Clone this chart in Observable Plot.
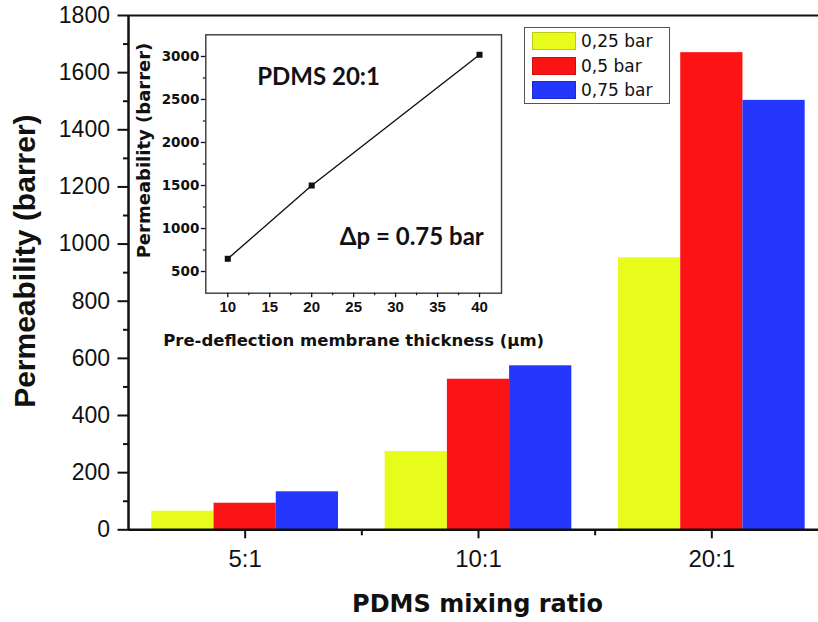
<!DOCTYPE html>
<html>
<head>
<meta charset="utf-8">
<script src="https://cdn.jsdelivr.net/npm/d3@7"></script>
<script src="https://cdn.jsdelivr.net/npm/@observablehq/plot@0.6"></script>
<style>
  html, body { margin: 0; padding: 0; background: #fff; }
  #wrap { position: relative; width: 818px; height: 622px; overflow: hidden; background: #fff; }
  #wrap svg { position: absolute; left: 0; top: 0; max-width: none !important; }
  #legend { position: absolute; left: 524px; top: 27px; width: 146px; height: 77px; box-sizing: border-box;
            border: 1.5px solid #555; background: #fff; font-family: "DejaVu Sans", sans-serif; font-size: 17px; }
  #legend .sw { position: absolute; left: 7px; width: 44px; height: 18px; box-sizing: border-box; }
  #legend .lb { position: absolute; left: 56px; line-height: 18px; white-space: nowrap; color: #111; }
</style>
</head>
<body>
<div id="wrap"></div>
<script>
// ---- Main chart data ----
const categories = ["5:1", "10:1", "20:1"];
const pressures = ["0,25 bar", "0,5 bar", "0,75 bar"];
const perm025 = [65, 274, 952];
const perm05 = [93, 527, 1670];
const perm075 = [133, 574, 1503];
const barColors = ["#e8fc1c", "#fc1414", "#2536fc"];
const yTicks = [0, 200, 400, 600, 800, 1000, 1200, 1400, 1600, 1800];
const yMinorTicks = [100, 300, 500, 700, 900, 1100, 1300, 1500, 1700];
const xTitle = "PDMS mixing ratio";
const yTitle = "Permeability (barrer)";

// ---- Inset data ----
const insetThickness = [10, 20, 40];
const insetPerm = [648, 1500, 3020];
const insetXTicks = [10, 15, 20, 25, 30, 35, 40];
const insetXMinor = [12.5, 17.5, 22.5, 27.5, 32.5, 37.5];
const insetYTicks = [500, 1000, 1500, 2000, 2500, 3000];
const insetYMinor = [750, 1250, 1750, 2250, 2750];
const insetXTitle = "Pre-deflection membrane thickness (µm)";
const insetYTitle = "Permeability (barrer)";
const insetNote1 = "PDMS 20:1";
const insetNote2 = "Δp = 0.75 bar";

const seriesValues = [perm025, perm05, perm075];
const groupWidth = 0.8;
const rows = categories.flatMap((cat, i) => pressures.map((p, j) => ({
  cat, pressure: p, value: seriesValues[j][i],
  x1: i - groupWidth / 2 + j * groupWidth / 3,
  x2: i - groupWidth / 2 + (j + 1) * groupWidth / 3
})));

const ARIAL = "'Liberation Sans', Arial, sans-serif";
const DEJAVU = "'DejaVu Sans', sans-serif";

const main = Plot.plot({
  width: 828, height: 622,
  marginLeft: 128, marginRight: 0, marginTop: 15, marginBottom: 92.7,
  style: { background: "transparent", fontFamily: ARIAL, color: "#111", maxWidth: "none" },
  x: { domain: [-0.5, categories.length - 0.5] },
  y: { domain: [0, 1800] },
  color: { domain: pressures, range: barColors },
  marks: [
    Plot.rectY(rows, { x1: "x1", x2: "x2", y: "value", fill: "pressure" }),
    Plot.ruleY([1800], { stroke: "#111", strokeWidth: 2 }),
    Plot.ruleY([0], { stroke: "#111", strokeWidth: 2.5 }),
    Plot.ruleX([-0.5], { y1: 0, y2: 1800, stroke: "#111", strokeWidth: 2.5 }),
    Plot.axisY({ ticks: yTicks, tickSize: 10.5, tickPadding: 8, tickFormat: d => String(d),
      fontSize: 23, fontFamily: ARIAL, stroke: "#111", strokeWidth: 2, label: null }),
    Plot.axisY({ ticks: yMinorTicks, tickSize: 5, tickFormat: () => "", stroke: "#111", strokeWidth: 2, label: null }),
    Plot.axisX({ ticks: categories.map((c, i) => i), tickFormat: i => categories[i], tickSize: 9, tickPadding: 11.4,
      fontSize: 24, fontFamily: ARIAL, stroke: "#111", strokeWidth: 2, label: null }),
    Plot.axisX({ ticks: categories.slice(1).map((c, i) => i + 0.5), tickSize: 6, tickFormat: () => "",
      stroke: "#111", strokeWidth: 2, label: null }),
    Plot.text([xTitle], { text: d => d, frameAnchor: "bottom", textAnchor: "middle", dx: -1, dy: 75, lineAnchor: "middle",
      fontSize: 24, fontWeight: "bold", fontFamily: DEJAVU, fill: "#111" }),
    Plot.text([yTitle], { text: d => d, frameAnchor: "left", textAnchor: "middle", rotate: -90, dx: -103, dy: -11.5,
      lineAnchor: "middle", fontSize: 30, fontWeight: "bold", fontFamily: ARIAL, fill: "#111" })
  ]
});

const insetRows = insetThickness.map((t, i) => ({ t, p: insetPerm[i] }));
const inset = Plot.plot({
  width: 818, height: 622,
  marginLeft: 205.3, marginRight: 317, marginTop: 34.3, marginBottom: 329.3,
  style: { background: "transparent", fontFamily: ARIAL, color: "#111", maxWidth: "none" },
  x: { domain: [7.38, 42.62] },
  y: { domain: [248, 3252] },
  marks: [
    Plot.frame({ stroke: "#3a3a3a", strokeWidth: 1.4 }),
    Plot.axisY({ ticks: insetYTicks, tickSize: 4.5, tickPadding: 2, tickFormat: d => String(d),
      fontSize: 13.5, fontWeight: "bold", fontFamily: DEJAVU, stroke: "#111", strokeWidth: 1.3, label: null }),
    Plot.axisY({ ticks: insetYMinor, tickSize: 2.5, tickFormat: () => "", stroke: "#111", strokeWidth: 1.2, label: null }),
    Plot.axisX({ ticks: insetXTicks, tickSize: 4.5, tickPadding: 4, tickFormat: d => String(d),
      fontSize: 15, fontWeight: "bold", fontFamily: ARIAL, stroke: "#111", strokeWidth: 1.3, label: null }),
    Plot.axisX({ ticks: insetXMinor, tickSize: 2.5, tickFormat: () => "", stroke: "#111", strokeWidth: 1.2, label: null }),
    Plot.line(insetRows, { x: "t", y: "p", stroke: "#111", strokeWidth: 1.4 }),
    Plot.dot(insetRows, { x: "t", y: "p", symbol: "square", r: 3.4, fill: "#111", stroke: "none" }),
    Plot.text([insetNote1], { text: d => d, frameAnchor: "left", textAnchor: "start", dx: 51.4, dy: -86.2,
      lineAnchor: "middle", fontSize: 24, fontWeight: "bold", fontFamily: "Lato, sans-serif", fill: "#111" }),
    Plot.text([insetNote2], { text: d => d, frameAnchor: "right", textAnchor: "end", dx: -17.7, dy: 73.8,
      lineAnchor: "middle", fontSize: 24, fontWeight: "bold", fontFamily: "Lato, sans-serif", fill: "#111" }),
    Plot.text([insetXTitle], { text: d => d, frameAnchor: "bottom", textAnchor: "middle", dy: 48, lineAnchor: "middle",
      fontSize: 16.5, fontWeight: "bold", fontFamily: DEJAVU, fill: "#111" }),
    Plot.text([insetYTitle], { text: d => d, frameAnchor: "left", textAnchor: "middle", rotate: -90, dx: -61.3, dy: -13.5,
      lineAnchor: "middle", fontSize: 18, fontWeight: "bold", fontFamily: DEJAVU, fill: "#111" })
  ]
});

const wrap = document.getElementById("wrap");
wrap.appendChild(main);
wrap.appendChild(inset);

// Legend (HTML swatches, colours/labels from the arrays)
const legend = document.createElement("div");
legend.id = "legend";
pressures.forEach((p, j) => {
  const sw = document.createElement("div");
  sw.className = "sw";
  sw.style.top = (4 + j * 24.5) + "px";
  sw.style.background = barColors[j];
  sw.style.border = "1px solid " + d3.color(barColors[j]).darker(0.6);
  legend.appendChild(sw);
  const lb = document.createElement("div");
  lb.className = "lb";
  lb.style.top = (4 + j * 24.5) + "px";
  lb.textContent = p;
  legend.appendChild(lb);
});
wrap.appendChild(legend);
</script>
</body>
</html>
